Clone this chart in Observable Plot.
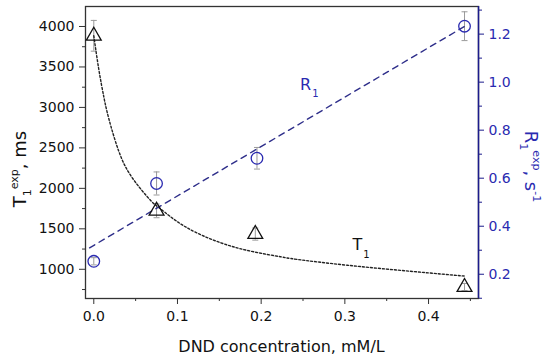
<!DOCTYPE html>
<html><head><meta charset="utf-8">
<script src="https://cdn.jsdelivr.net/npm/d3@7"></script>
<script src="https://cdn.jsdelivr.net/npm/@observablehq/plot@0.6"></script>
<style>body{margin:0;background:#fff;} svg{display:block;}</style>
</head><body><div id="chart"></div>
<script>
// ---- data ----
const concT = [0, 0.075, 0.193, 0.443];          // DND concentration, mM/L (triangles)
const t1 = [3885, 1722, 1435, 780];               // T1 exp, ms
const t1Err = [190, 85, 75, 45];
const concR = [0, 0.075, 0.195, 0.443];           // circles
const r1 = [0.254, 0.578, 0.683, 1.233];          // R1 exp, s^-1
const r1Err = [0.015, 0.048, 0.045, 0.06];
// dotted fit curve for T1
const fitTx = [0, 0.006, 0.012, 0.018, 0.030, 0.046, 0.068, 0.080, 0.107, 0.147, 0.187, 0.223, 0.243, 0.303, 0.382, 0.444];
const fitTy = [3885, 3470, 3130, 2860, 2455, 2130, 1850, 1745, 1540, 1345, 1225, 1155, 1122, 1050, 972, 915];
// dashed linear fit for R1
const fitRx = [-0.005, 0.443];
const fitRy = [0.31, 1.232];
// ticks
const xTicks = [0, 0.1, 0.2, 0.3, 0.4];
const xMinor = [0.05, 0.15, 0.25, 0.35, 0.45];
const yTicks = [1000, 1500, 2000, 2500, 3000, 3500, 4000];
const yMinor = [750, 1250, 1750, 2250, 2750, 3250, 3750];
const rTicks = [0.2, 0.4, 0.6, 0.8, 1.0, 1.2];
const rMinor = [0.1, 0.3, 0.5, 0.7, 0.9, 1.1, 1.3];
// axis domains
const xDomain = [-0.0099, 0.4597];
const yDomain = [639, 4247];
const rDomain = [0.099, 1.315];

const rToY = d3.scaleLinear(rDomain, yDomain);

const tData = concT.map((x, i) => ({x, y: t1[i], lo: t1[i] - t1Err[i], hi: t1[i] + t1Err[i]}));
const rData = concR.map((x, i) => ({x, y: rToY(r1[i]), lo: rToY(r1[i] - r1Err[i]), hi: rToY(r1[i] + r1Err[i])}));
const fitT = fitTx.map((x, i) => ({x, y: fitTy[i]}));
const fitR = fitRx.map((x, i) => ({x, y: rToY(fitRy[i])}));

const cap = {draw(ctx) { ctx.moveTo(-3, 0); ctx.lineTo(3, 0); }};
const navy = "#1c1c8c";
const blue = "#2a2ab0";
const errC = "#9a9a9a";

const plot = Plot.plot({
  width: 550, height: 358,
  marginLeft: 85, marginRight: 72, marginTop: 6, marginBottom: 60,
  style: {fontFamily: "DejaVu Sans, sans-serif", fontSize: "14px", background: "#fff", color: "#111"},
  x: {domain: xDomain, axis: null},
  y: {domain: yDomain, axis: null},
  marks: [
    // bottom axis
    Plot.axisX(xTicks, {anchor: "bottom", tickSize: 6, tickPadding: 7, tickFormat: d => d.toFixed(1), fontSize: 14, stroke: "#333", label: null}),
    Plot.axisX(xMinor, {anchor: "bottom", tickSize: 3, tickFormat: () => "", stroke: "#333", label: null}),
    // left axis
    Plot.axisY(yTicks, {anchor: "left", tickSize: 6, tickPadding: 5, fontSize: 14, stroke: "#333", label: null, tickFormat: d => String(d)}),
    Plot.axisY(yMinor, {anchor: "left", tickSize: 3, tickFormat: () => "", stroke: "#333", label: null}),
    // right axis (R1 in s^-1, mapped onto the T1 scale)
    Plot.axisY(rTicks.map(rToY), {anchor: "right", tickSize: 5, tickPadding: 5, fontSize: 14, stroke: navy, fill: blue, label: null,
      tickFormat: d => rToY.invert(d).toFixed(1)}),
    Plot.axisY(rMinor.map(rToY), {anchor: "right", tickSize: 3, tickFormat: () => "", stroke: navy, label: null}),
    // frame
    Plot.frame({stroke: "#333", strokeWidth: 1.3}),
    Plot.ruleX([xDomain[1]], {stroke: navy, strokeWidth: 1.5}),
    // error bars
    Plot.ruleX(tData, {x: "x", y1: "lo", y2: "hi", stroke: errC, strokeWidth: 1}),
    Plot.dot(tData, {x: "x", y: "lo", symbol: cap, stroke: errC, strokeWidth: 1}),
    Plot.dot(tData, {x: "x", y: "hi", symbol: cap, stroke: errC, strokeWidth: 1}),
    Plot.ruleX(rData, {x: "x", y1: "lo", y2: "hi", stroke: errC, strokeWidth: 1}),
    Plot.dot(rData, {x: "x", y: "lo", symbol: cap, stroke: errC, strokeWidth: 1}),
    Plot.dot(rData, {x: "x", y: "hi", symbol: cap, stroke: errC, strokeWidth: 1}),
    // fits
    Plot.line(fitT, {x: "x", y: "y", curve: "natural", stroke: "#222", strokeWidth: 1.4, strokeDasharray: "2,2"}),
    Plot.line(fitR, {x: "x", y: "y", stroke: "#2e2e8a", strokeWidth: 1.4, strokeDasharray: "6,5"}),
    // points
    Plot.dot(tData, {x: "x", y: "y", symbol: "triangle", r: 5.5, stroke: "#111", strokeWidth: 1.3, fill: "none"}),
    Plot.dot(rData, {x: "x", y: "y", symbol: "circle", r: 5.8, stroke: blue, strokeWidth: 1.3, fill: "none"}),
    // series labels
    Plot.text(["R"], {x: () => 0.253, y: () => rToY(0.989), fill: blue, fontSize: 16}),
    Plot.text(["1"], {x: () => 0.253, y: () => rToY(0.989), dx: 10, dy: 9, fill: blue, fontSize: 10}),
    Plot.text(["T"], {x: () => 0.315, y: () => 1300, fill: "#111", fontSize: 16}),
    Plot.text(["1"], {x: () => 0.315, y: () => 1300, dx: 9, dy: 10, fill: "#111", fontSize: 10})
  ]
});

const svg = d3.select(plot);
// x title
svg.append("text").attr("x", 281.5).attr("y", 352).attr("text-anchor", "middle")
  .attr("font-family", "DejaVu Sans, sans-serif").attr("font-size", 16).attr("fill", "#111")
  .text("DND concentration, mM/L");
// left title
const lt = svg.append("text").attr("transform", "translate(26,169) rotate(-90)").attr("text-anchor", "middle")
  .attr("font-family", "DejaVu Sans, sans-serif").attr("font-size", 18).attr("fill", "#111");
lt.append("tspan").text("T");
lt.append("tspan").attr("font-size", 11).attr("dy", 5).text("1");
lt.append("tspan").attr("font-size", 11).attr("dy", -13).text("exp");
lt.append("tspan").attr("dy", 8).text(", ms");
// right title
const rt = svg.append("text").attr("transform", "translate(525,166.5) rotate(90)").attr("text-anchor", "middle")
  .attr("font-family", "DejaVu Sans, sans-serif").attr("font-size", 18).attr("fill", blue);
rt.append("tspan").text("R");
rt.append("tspan").attr("font-size", 11).attr("dy", 5).text("1");
rt.append("tspan").attr("font-size", 11).attr("dy", -13).text("exp");
rt.append("tspan").attr("dy", 8).text(", s");
rt.append("tspan").attr("font-size", 11).attr("dy", -8).text("-1");

document.getElementById("chart").append(plot);
</script>
</body></html>
